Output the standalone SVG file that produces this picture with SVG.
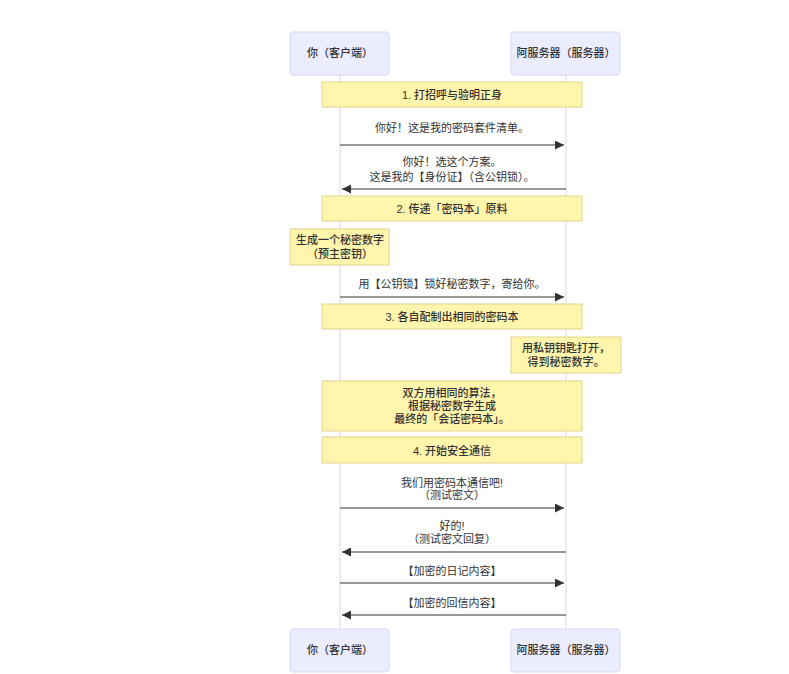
<svg xmlns="http://www.w3.org/2000/svg" width="789" height="674" viewBox="0 0 789 674">
<style>
.actor{fill:#ECECFF;stroke:#D8D6F5;stroke-width:1}
.life{stroke:#D8D6F5;stroke-width:1}
.note{fill:#FFF5AD;stroke:#DDD78A;stroke-width:1}
text{font-family:"Liberation Sans","Noto Sans CJK SC",sans-serif;text-anchor:middle;fill:#333}
.at{font-size:11px;font-weight:500}
.nt{font-size:11px;font-weight:500}
.mt{font-size:11px}
.msg{stroke:#333;stroke-width:1}
</style>
<defs><marker id="ah" viewBox="0 0 10 10" refX="10" refY="5" markerWidth="9" markerHeight="9" orient="auto-start-reverse"><path d="M0,0 L10,5 L0,10 z" fill="#333"/></marker></defs>
<rect width="789" height="674" fill="#fff"/>
<g id="lifelines"><line class="life" x1="340" y1="75" x2="340" y2="629"/><line class="life" x1="566" y1="75" x2="566" y2="629"/></g>
<g id="actor-client-top"><rect class="actor" x="290" y="32" width="99" height="43" rx="3"/><text class="at" x="340" y="57">你（客户端）</text></g>
<g id="actor-server-top"><rect class="actor" x="511" y="32" width="109" height="43" rx="3"/><text class="at" x="566" y="57">阿服务器（服务器）</text></g>
<g id="actor-client-bottom"><rect class="actor" x="290" y="629" width="99" height="43" rx="3"/><text class="at" x="340" y="654">你（客户端）</text></g>
<g id="actor-server-bottom"><rect class="actor" x="511" y="629" width="109" height="43" rx="3"/><text class="at" x="566" y="654">阿服务器（服务器）</text></g>
<g id="note1"><rect class="note" x="322" y="82" width="260" height="25"/><text class="nt" x="452" y="99">1. 打招呼与验明正身</text></g>
<g id="note2"><rect class="note" x="322" y="196" width="260" height="25"/><text class="nt" x="452" y="213">2. 传递「密码本」原料</text></g>
<g id="note-left"><rect class="note" x="290" y="229" width="99" height="36"/><text class="nt" x="340" y="244">生成一个秘密数字</text><text class="nt" x="340" y="258">（预主密钥）</text></g>
<g id="note3"><rect class="note" x="322" y="304" width="260" height="25"/><text class="nt" x="452" y="321">3. 各自配制出相同的密码本</text></g>
<g id="note-right"><rect class="note" x="511" y="337" width="110" height="36"/><text class="nt" x="566" y="352">用私钥钥匙打开，</text><text class="nt" x="566" y="366">得到秘密数字。</text></g>
<g id="note-both"><rect class="note" x="322" y="381" width="260" height="50"/><text class="nt" x="452" y="397">双方用相同的算法，</text><text class="nt" x="452" y="410">根据秘密数字生成</text><text class="nt" x="452" y="423">最终的「会话密码本」。</text></g>
<g id="note4"><rect class="note" x="322" y="437" width="260" height="26"/><text class="nt" x="452" y="455">4. 开始安全通信</text></g>
<g id="connectors">
<text class="mt" x="452" y="132">你好！这是我的密码套件清单。</text>
<line class="msg" x1="340" y1="145" x2="564" y2="145" marker-end="url(#ah)"/>
<text class="mt" x="452" y="166">你好！选这个方案。</text>
<text class="mt" x="452" y="181">这是我的【身份证】（含公钥锁）。</text>
<line class="msg" x1="566" y1="189" x2="342" y2="189" marker-end="url(#ah)"/>
<text class="mt" x="452" y="288">用【公钥锁】锁好秘密数字，寄给你。</text>
<line class="msg" x1="340" y1="297" x2="564" y2="297" marker-end="url(#ah)"/>
<text class="mt" x="452" y="487">我们用密码本通信吧!</text>
<text class="mt" x="452" y="499">（测试密文）</text>
<line class="msg" x1="340" y1="508" x2="564" y2="508" marker-end="url(#ah)"/>
<text class="mt" x="452" y="530">好的!</text>
<text class="mt" x="452" y="543">（测试密文回复）</text>
<line class="msg" x1="566" y1="552" x2="342" y2="552" marker-end="url(#ah)"/>
<text class="mt" x="452" y="575">【加密的日记内容】</text>
<line class="msg" x1="340" y1="583" x2="564" y2="583" marker-end="url(#ah)"/>
<text class="mt" x="452" y="607">【加密的回信内容】</text>
<line class="msg" x1="566" y1="615" x2="342" y2="615" marker-end="url(#ah)"/>
</g>
</svg>
